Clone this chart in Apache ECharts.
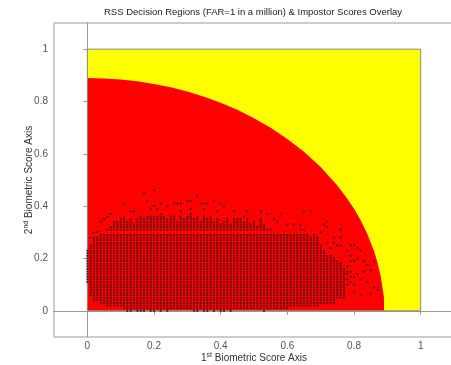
<!DOCTYPE html>
<html><head><meta charset="utf-8">
<script src="https://cdn.jsdelivr.net/npm/echarts@6/dist/echarts.min.js"></script>
<style>html,body{margin:0;padding:0;background:#fff}#c{width:451px;height:365px}</style>
</head><body><div id="c"></div>
<script>
const titleText = 'RSS Decision Regions (FAR=1 in a million) & Impostor Scores Overlay';
const xTicks = [0, 0.2, 0.4, 0.6, 0.8, 1];
const yTicks = [0, 0.2, 0.4, 0.6, 0.8, 1];
// accept (yellow) region corners
const acceptBox = [[0, 0], [1, 1]];
// reject (red) region boundary
const rejectBoundary = [[0,0],[0,0.89],[0.05,0.888],[0.10,0.884],[0.15,0.877],[0.20,0.867],[0.25,0.854],[0.30,0.838],
  [0.35,0.818],[0.40,0.795],[0.45,0.768],[0.50,0.736],[0.55,0.700],[0.60,0.657],[0.65,0.608],[0.70,0.550],
  [0.75,0.479],[0.78,0.428],[0.80,0.390],[0.82,0.346],[0.84,0.294],[0.86,0.229],[0.87,0.187],[0.88,0.133],
  [0.89,0.05],[0.89,0]];
// impostor scores: quantized columns (run-length: lowest & highest filled score per column)
const colX = [0.00,0.01,0.02,0.03,0.04,0.05,0.06,0.07,0.08,0.09,0.10,
  0.11,0.12,0.13,0.14,0.15,0.16,0.17,0.18,0.19,0.20,
  0.21,0.22,0.23,0.24,0.25,0.26,0.27,0.28,0.29,0.30,
  0.31,0.32,0.33,0.34,0.35,0.36,0.37,0.38,0.39,0.40,
  0.41,0.42,0.43,0.44,0.45,0.46,0.47,0.48,0.49,0.50,
  0.51,0.52,0.53,0.54,0.55,0.56,0.57,0.58,0.59,0.60,
  0.61,0.62,0.63,0.64,0.65,0.66,0.67,0.68,0.69,
  0.70,0.71,0.72,0.73,0.74,0.75,0.76,0.77];
const colLow = [0.11,0.06,0.04,0.04,0.03,0.03,0.02,0.02,0.02,0.02,0.02,
  0.01,0.01,0.01,0.01,0.01,0.01,0.01,0.01,0.01,0.01,
  0.01,0.01,0.01,0.01,0.01,0.01,0.01,0.01,0.01,0.01,
  0.01,0.01,0.01,0.01,0.01,0.01,0.01,0.01,0.01,0.01,
  0.01,0.01,0.01,0.01,0.01,0.01,0.01,0.01,0.01,0.01,
  0.01,0.01,0.01,0.01,0.01,0.01,0.01,0.01,0.01,0.01,
  0.02,0.02,0.02,0.02,0.02,0.02,0.02,0.02,0.02,
  0.03,0.03,0.03,0.03,0.03,0.05,0.05,0.05];
const colHigh = [0.23,0.25,0.28,0.28,0.29,0.29,0.31,0.32,0.34,0.34,0.35,
  0.36,0.34,0.35,0.33,0.35,0.36,0.35,0.36,0.36,0.36,
  0.36,0.37,0.36,0.35,0.36,0.36,0.34,0.36,0.35,0.36,
  0.37,0.35,0.36,0.34,0.36,0.35,0.36,0.34,0.35,0.33,
  0.34,0.35,0.33,0.35,0.35,0.35,0.34,0.35,0.33,0.34,
  0.32,0.35,0.33,0.31,0.30,0.30,0.29,0.30,0.29,0.30,
  0.29,0.29,0.30,0.29,0.29,0.29,0.28,0.29,0.28,
  0.25,0.23,0.21,0.21,0.20,0.19,0.18,0.16];
const emptyRows = [0.30];
const scoreStep = 0.01;
// isolated impostor scores
const looseScores = [
  [0.01,0.28],[0.02,0.30],[0.03,0.30],[0.04,0.34],[0.05,0.35],[0.06,0.36],[0.07,0.37],
  [0.11,0.41],[0.13,0.38],[0.14,0.38],[0.17,0.45],[0.18,0.42],[0.19,0.39],[0.20,0.46],[0.20,0.40],[0.21,0.39],
  [0.22,0.41],[0.24,0.40],[0.26,0.41],[0.27,0.41],[0.28,0.38],[0.28,0.41],[0.30,0.42],[0.31,0.42],[0.31,0.39],
  [0.33,0.44],[0.34,0.41],[0.35,0.39],[0.35,0.41],[0.36,0.41],[0.38,0.42],[0.39,0.38],[0.40,0.41],[0.41,0.40],[0.44,0.38],
  [0.47,0.36],[0.48,0.38],[0.52,0.38],[0.54,0.37],[0.56,0.35],[0.57,0.34],[0.58,0.37],[0.60,0.33],[0.62,0.33],
  [0.64,0.33],[0.65,0.38],[0.55,0.31],[0.64,0.31],[0.65,0.31],[0.67,0.38],[0.70,0.30],[0.71,0.33],[0.72,0.34],
  [0.72,0.32],[0.72,0.26],[0.74,0.28],[0.74,0.26],[0.73,0.24],[0.75,0.25],[0.76,0.31],[0.76,0.28],[0.76,0.25],
  [0.79,0.25],[0.78,0.23],[0.79,0.21],[0.80,0.25],[0.81,0.24],[0.81,0.20],[0.82,0.23],[0.79,0.19],[0.80,0.19],
  [0.78,0.17],[0.78,0.15],[0.78,0.14],[0.78,0.12],[0.78,0.10],[0.79,0.15],[0.79,0.13],[0.79,0.11],[0.80,0.13],
  [0.80,0.10],[0.80,0.07],[0.81,0.14],[0.82,0.12],[0.82,0.06],[0.83,0.19],[0.83,0.15],[0.84,0.175],[0.84,0.11],
  [0.85,0.155],[0.85,0.067],[0.86,0.19],[0.86,0.09],[0.87,0.08],[0.872,0.09],
  [0.12,0],[0.13,0],[0.15,0],[0.16,0],[0.17,0],[0.19,0],[0.20,0],[0.22,0],[0.24,0],
  [0.32,0],[0.33,0],[0.35,0],[0.36,0],[0.38,0],[0.40,0],[0.41,0],[0.43,0],[0.53,0]
];

// decode run-length columns
const scores = [];
colX.forEach((x, i) => {
  const n = Math.round((colHigh[i] - colLow[i]) / scoreStep);
  for (let k = 0; k <= n; k++) {
    const y = +(colLow[i] + k * scoreStep).toFixed(2);
    if (emptyRows.indexOf(y) < 0) scores.push([x, y]);
  }
});
looseScores.forEach(p => scores.push(p));

const FONT = 'Liberation Sans, Arial, sans-serif';
const axisColor = '#9a9a9a';
const labelColor = '#555';

const chart = echarts.init(document.getElementById('c'), null, {renderer: 'canvas'});
chart.setOption({
  animation: false,
  backgroundColor: '#fff',
  graphic: [{
    type: 'text', x: 253, y: 12, silent: true,
    style: {text: titleText, fontSize: 9.5, fontFamily: FONT, fill: '#222', align: 'center', verticalAlign: 'middle'}
  }],
  grid: {left: 54, top: 23, width: 400, height: 314, outerBoundsMode: 'none', containLabel: false,
    show: true, borderColor: axisColor, borderWidth: 1, backgroundColor: 'transparent'},
  xAxis: [{
    type: 'value', min: -0.1, max: 1.1, position: 'bottom',
    axisLine: {show: true, lineStyle: {color: axisColor}},
    axisTick: {show: true, inside: true, length: 4, customValues: xTicks, lineStyle: {color: axisColor}},
    axisLabel: {customValues: xTicks, color: labelColor, fontSize: 10, fontFamily: FONT, margin: 4, formatter: v => String(v)},
    splitLine: {show: false},
    name: '1{sup|st} Biometric Score Axis', nameLocation: 'middle', nameGap: 15, nameMoveOverlap: false,
    nameTextStyle: {fontSize: 10, color: '#333', fontFamily: FONT,
      rich: {sup: {fontSize: 7, color: '#333', fontFamily: FONT, padding: [0, 0, 6, 0]}}}
  }, {
    type: 'value', min: -0.1, max: 1.1, position: 'top',
    axisLine: {show: true, lineStyle: {color: axisColor}},
    axisTick: {show: true, inside: true, length: 4, customValues: xTicks, lineStyle: {color: axisColor}},
    axisLabel: {show: false}, splitLine: {show: false}
  }],
  yAxis: [{
    type: 'value', min: -0.1, max: 1.1, position: 'left',
    axisLine: {show: true, lineStyle: {color: axisColor}},
    axisTick: {show: true, inside: true, length: 4, customValues: yTicks, lineStyle: {color: axisColor}},
    axisLabel: {customValues: yTicks, color: labelColor, fontSize: 10, fontFamily: FONT, margin: 6, formatter: v => String(v)},
    splitLine: {show: false},
    name: '2{sup|nd} Biometric Score Axis', nameLocation: 'middle', nameGap: 18, nameMoveOverlap: false,
    nameTextStyle: {fontSize: 10, color: '#333', fontFamily: FONT,
      rich: {sup: {fontSize: 7, color: '#333', fontFamily: FONT, padding: [0, 0, 6, 0]}}}
  }, {
    type: 'value', min: -0.1, max: 1.1, position: 'right',
    axisLine: {show: true, lineStyle: {color: axisColor}},
    axisTick: {show: true, inside: true, length: 4, customValues: yTicks, lineStyle: {color: axisColor}},
    axisLabel: {show: false}, splitLine: {show: false}
  }],
  series: [{
    type: 'custom', silent: true, z: 1, data: [0],
    renderItem: (params, api) => {
      const a = api.coord([acceptBox[0][0], acceptBox[1][1]]);
      const b = api.coord([acceptBox[1][0], acceptBox[0][1]]);
      return {type: 'rect', shape: {x: a[0], y: a[1], width: b[0] - a[0], height: b[1] - a[1]},
        style: {fill: '#ffff00', stroke: null}};
    }
  }, {
    type: 'custom', silent: true, z: 2, data: [0],
    renderItem: (params, api) => ({
      type: 'polygon', shape: {points: rejectBoundary.map(p => api.coord(p))},
      style: {fill: '#ff0000', stroke: null}
    })
  }, {
    type: 'custom', silent: true, z: 3, data: [0],
    renderItem: (params, api) => {
      const a = api.coord([acceptBox[0][0], acceptBox[1][1]]);
      const b = api.coord([acceptBox[1][0], acceptBox[0][1]]);
      return {type: 'rect', shape: {x: a[0], y: a[1], width: b[0] - a[0], height: b[1] - a[1]},
        style: {fill: null, stroke: '#8a8a8a', lineWidth: 1}};
    }
  }, {
    type: 'scatter', z: 4, silent: true, data: scores,
    symbol: 'rect', symbolSize: 1.8,
    itemStyle: {color: '#200000', opacity: 0.8}
  }]
});
</script></body></html>
